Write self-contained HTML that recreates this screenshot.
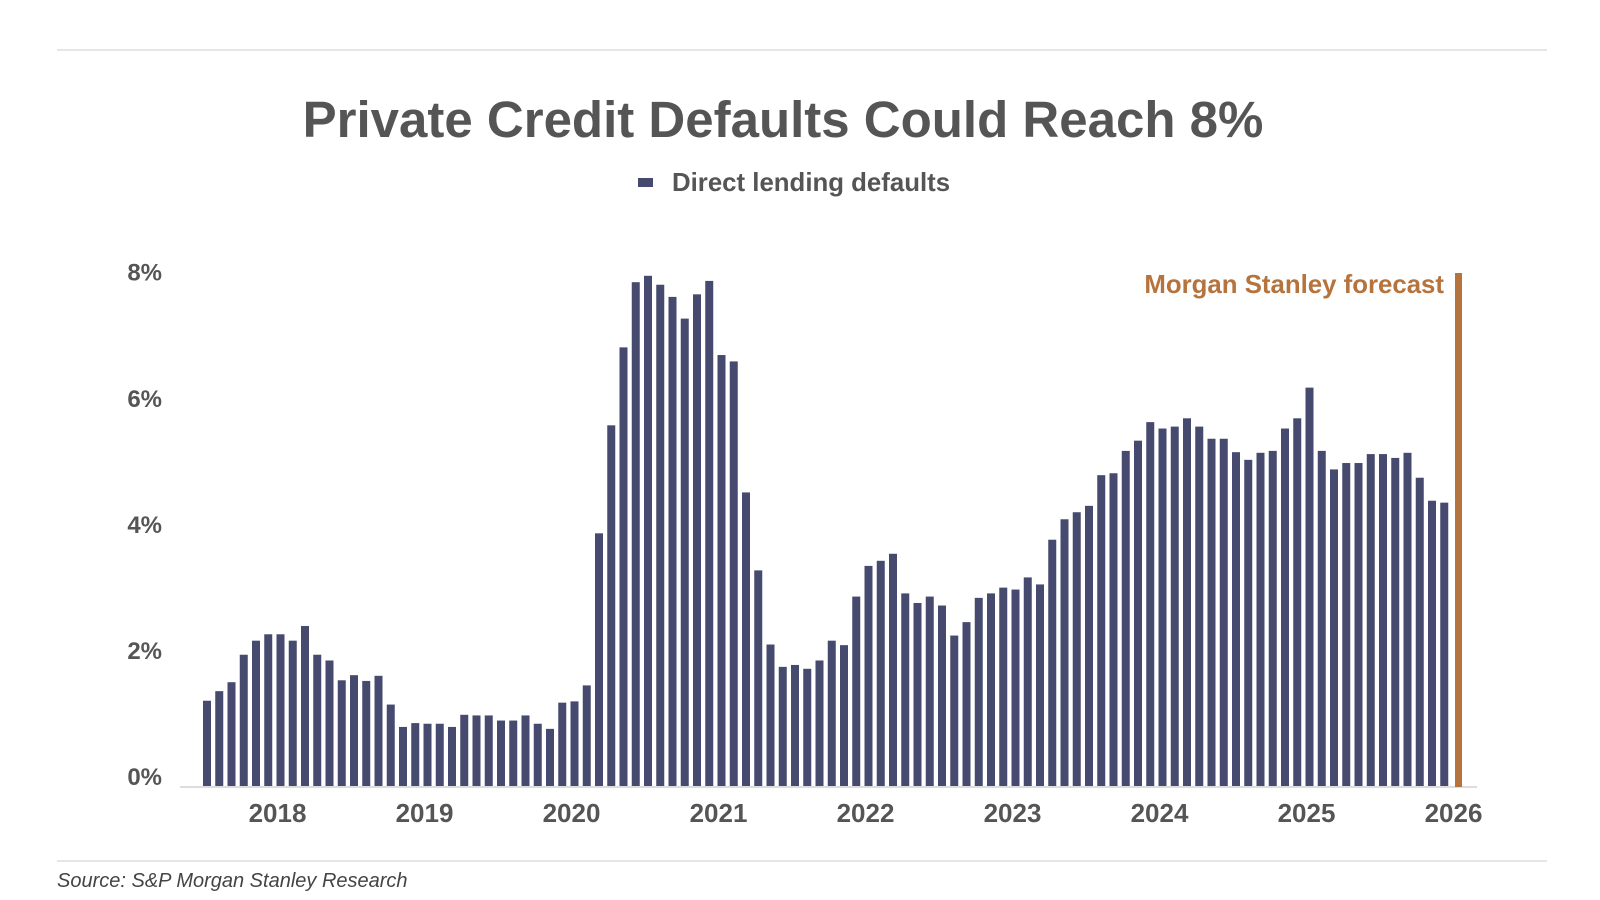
<!DOCTYPE html>
<html><head><meta charset="utf-8"><style>
body{margin:0;background:#fff;width:1600px;height:900px;overflow:hidden;font-family:"Liberation Sans",sans-serif}
</style></head><body>
<svg width="1600" height="900" style="position:absolute;left:0;top:0">
<line x1="57" y1="50" x2="1547" y2="50" stroke="#ddd" stroke-width="1.5"/>
<text x="783" y="137" text-anchor="middle" font-size="51" font-weight="bold" fill="#555">Private Credit Defaults Could Reach 8%</text>
<rect x="638" y="178" width="15" height="9" fill="#464a6f"/>
<text x="672" y="191" font-size="25.8" font-weight="bold" fill="#555">Direct lending defaults</text>
<g id="yaxis"></g><g id="bars"></g><g id="xaxis"></g>
<line x1="180" y1="787" x2="1477" y2="787" stroke="#ddd" stroke-width="2"/>
<rect x="1455" y="273" width="7" height="514" fill="#b5733d"/>
<text x="1444" y="293" text-anchor="end" font-size="25.8" font-weight="bold" fill="#b5733d">Morgan Stanley forecast</text>
<line x1="57" y1="861" x2="1547" y2="861" stroke="#ddd" stroke-width="1.5"/>
<text x="57" y="887" font-size="20" font-style="italic" fill="#444">Source: S&amp;P Morgan Stanley Research</text>
</svg>
<script>
const values=[1.35,1.5,1.64,2.07,2.29,2.39,2.39,2.29,2.52,2.07,1.98,1.67,1.75,1.66,1.74,1.29,0.94,1.0,0.99,0.99,0.94,1.13,1.12,1.12,1.04,1.04,1.12,0.99,0.91,1.32,1.34,1.59,3.97,5.66,6.88,7.9,8.0,7.86,7.67,7.33,7.71,7.92,6.76,6.66,4.61,3.39,2.23,1.88,1.91,1.85,1.98,2.29,2.22,2.98,3.46,3.54,3.65,3.03,2.88,2.98,2.84,2.37,2.58,2.96,3.03,3.12,3.09,3.28,3.17,3.87,4.19,4.30,4.40,4.88,4.91,5.26,5.42,5.71,5.61,5.64,5.77,5.64,5.45,5.45,5.24,5.12,5.23,5.26,5.61,5.77,6.25,5.26,4.97,5.07,5.07,5.21,5.21,5.15,5.23,4.84,4.48,4.45];
const yTicks=[0,2,4,6,8];
const yearLabels=["2018","2019","2020","2021","2022","2023","2024","2025","2026"];
const yearIndex=[6,18,30,42,54,66,78,90,102];
const NS="http://www.w3.org/2000/svg";
function y(v){return 787-v*63.9;}
function x(i){return 207+i*12.25;}
const bars=document.getElementById('bars');
values.forEach((v,i)=>{
 const r=document.createElementNS(NS,'rect');
 r.setAttribute('x',x(i)-4);r.setAttribute('y',y(v));
 r.setAttribute('width',8);r.setAttribute('height',787-y(v));
 r.setAttribute('fill','#464a6f');
 
 
 bars.appendChild(r);
});
const ya=document.getElementById('yaxis');
yTicks.forEach(t=>{
 const tx=document.createElementNS(NS,'text');
 tx.setAttribute('x',162);tx.setAttribute('y',y(t)+8-(10-7*t/8)*1.02);
 tx.setAttribute('text-anchor','end');tx.setAttribute('font-size','24');
 tx.setAttribute('font-weight','bold');tx.setAttribute('fill','#555');
 tx.textContent=t+'%';
 
 
 ya.appendChild(tx);
});
const xa=document.getElementById('xaxis');
yearLabels.forEach((l,k)=>{
 const tx=document.createElementNS(NS,'text');
 tx.setAttribute('x',x(yearIndex[k])-3);tx.setAttribute('y',822);
 tx.setAttribute('text-anchor','middle');tx.setAttribute('font-size','26');
 tx.setAttribute('font-weight','bold');tx.setAttribute('fill','#555');
 tx.textContent=l;
 
 
 xa.appendChild(tx);
});
</script>
</body></html>
